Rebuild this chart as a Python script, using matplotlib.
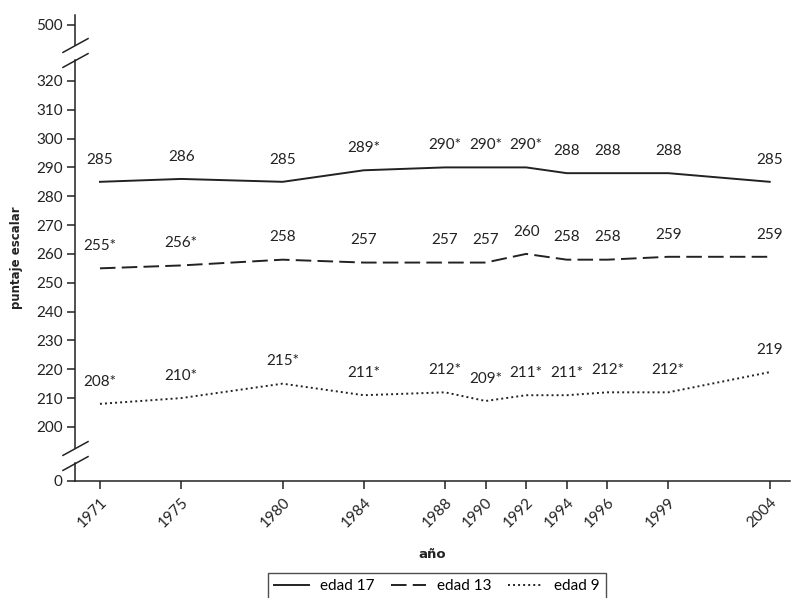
import numpy as np
import matplotlib.pyplot as plt
from matplotlib.path import Path

plt.rcParams['font.family'] = ['Lato', 'DejaVu Sans']

# datos
anios = [1971, 1975, 1980, 1984, 1988, 1990, 1992, 1994, 1996, 1999, 2004]
edad17 = [285, 286, 285, 289, 290, 290, 290, 288, 288, 288, 285]
edad13 = [255, 256, 258, 257, 257, 257, 260, 258, 258, 259, 259]
edad9 = [208, 210, 215, 211, 212, 209, 211, 211, 212, 212, 219]
etq17 = ["285", "286", "285", "289*", "290*", "290*", "290*", "288", "288", "288", "285"]
etq13 = ["255*", "256*", "258", "257", "257", "257", "260", "258", "258", "259", "259"]
etq9 = ["208*", "210*", "215*", "211*", "212*", "209*", "211*", "211*", "212*", "212*", "219"]
yticks = [0, 200, 210, 220, 230, 240, 250, 260, 270, 280, 290, 300, 310, 320, 500]

# escala partida (0-200 y 320-500 comprimidos)
xp = [-200, 0, 200, 320, 500, 1000]
fp = [162.5, 181.25, 200, 320, 339.4, 393.3]
def fwd(v):
    return np.interp(v, xp, fp)
def inv(v):
    return np.interp(v, fp, xp)

color = "#222222"
fig = plt.figure(figsize=(7.91, 5.98), dpi=100)
ax = fig.add_axes([75/791, 117/598, 715/791, 466/598])
ax.set_yscale('function', functions=(fwd, inv))
ax.set_ylim(0, 532)
ax.set_xlim(1969.77, 2005)

l1, = ax.plot(anios, edad17, color=color, lw=1.4, ls='-')
l2, = ax.plot(anios, edad13, color=color, lw=1.4, ls=(0, (8, 3.2)))
l3, = ax.plot(anios, edad9, color=color, lw=1.4, ls=(0, (1, 1.6)))

for serie, etq in [(edad17, etq17), (edad13, etq13), (edad9, etq9)]:
    for a, v, t in zip(anios, serie, etq):
        ax.annotate(t, (a, v), xytext=(0, 16), textcoords='offset points',
                    ha='center', va='center', fontsize=11, color=color)

ax.set_yticks(yticks)
ax.set_yticklabels([str(t) for t in yticks])
ax.set_xticks(anios)
ax.set_xticklabels([str(a) for a in anios], rotation=45, ha='right',
                   rotation_mode='anchor')
ax.tick_params(axis='both', colors=color, labelsize=11, width=1.1)
ax.tick_params(axis='y', length=6, pad=3)
ax.tick_params(axis='x', length=6, pad=4)

for s in ['top', 'right', 'left']:
    ax.spines[s].set_visible(False)
ax.spines['bottom'].set_color(color)
ax.spines['bottom'].set_linewidth(1.1)

# eje y con cortes
trans = ax.get_yaxis_transform()
segs = [(0, 67), (122, 387), (436, 532)]
for a, b in segs:
    ax.plot([0, 0], [a, b], transform=trans, color=color, lw=1.1, clip_on=False)
barra = Path([(-1, -0.55), (1, 0.55)], [Path.MOVETO, Path.LINETO])
ax.plot([0, 0, 0, 0], [67, 122, 387, 436], transform=trans, ls='none',
        marker=barra, ms=19, mew=1.1, color=color, clip_on=False)

ax.set_ylabel("puntaje escalar", fontsize=8.5, fontweight='bold', color=color,
              family='DejaVu Sans')
ax.yaxis.set_label_coords(-0.073, 0.48)
ax.set_xlabel("año", fontsize=9.5, fontweight='bold', color=color,
              family='DejaVu Sans', labelpad=13)

fig.legend([l1, l2, l3], ["edad 17", "edad 13", "edad 9"], ncol=3,
           loc='upper center', bbox_to_anchor=(0.552, 0.0418), frameon=True,
           fancybox=False, edgecolor=color, fontsize=11, handlelength=2.3,
           handletextpad=0.7, columnspacing=1.1, borderaxespad=0,
           borderpad=0.4)

fig.savefig("out.png", dpi=100)
